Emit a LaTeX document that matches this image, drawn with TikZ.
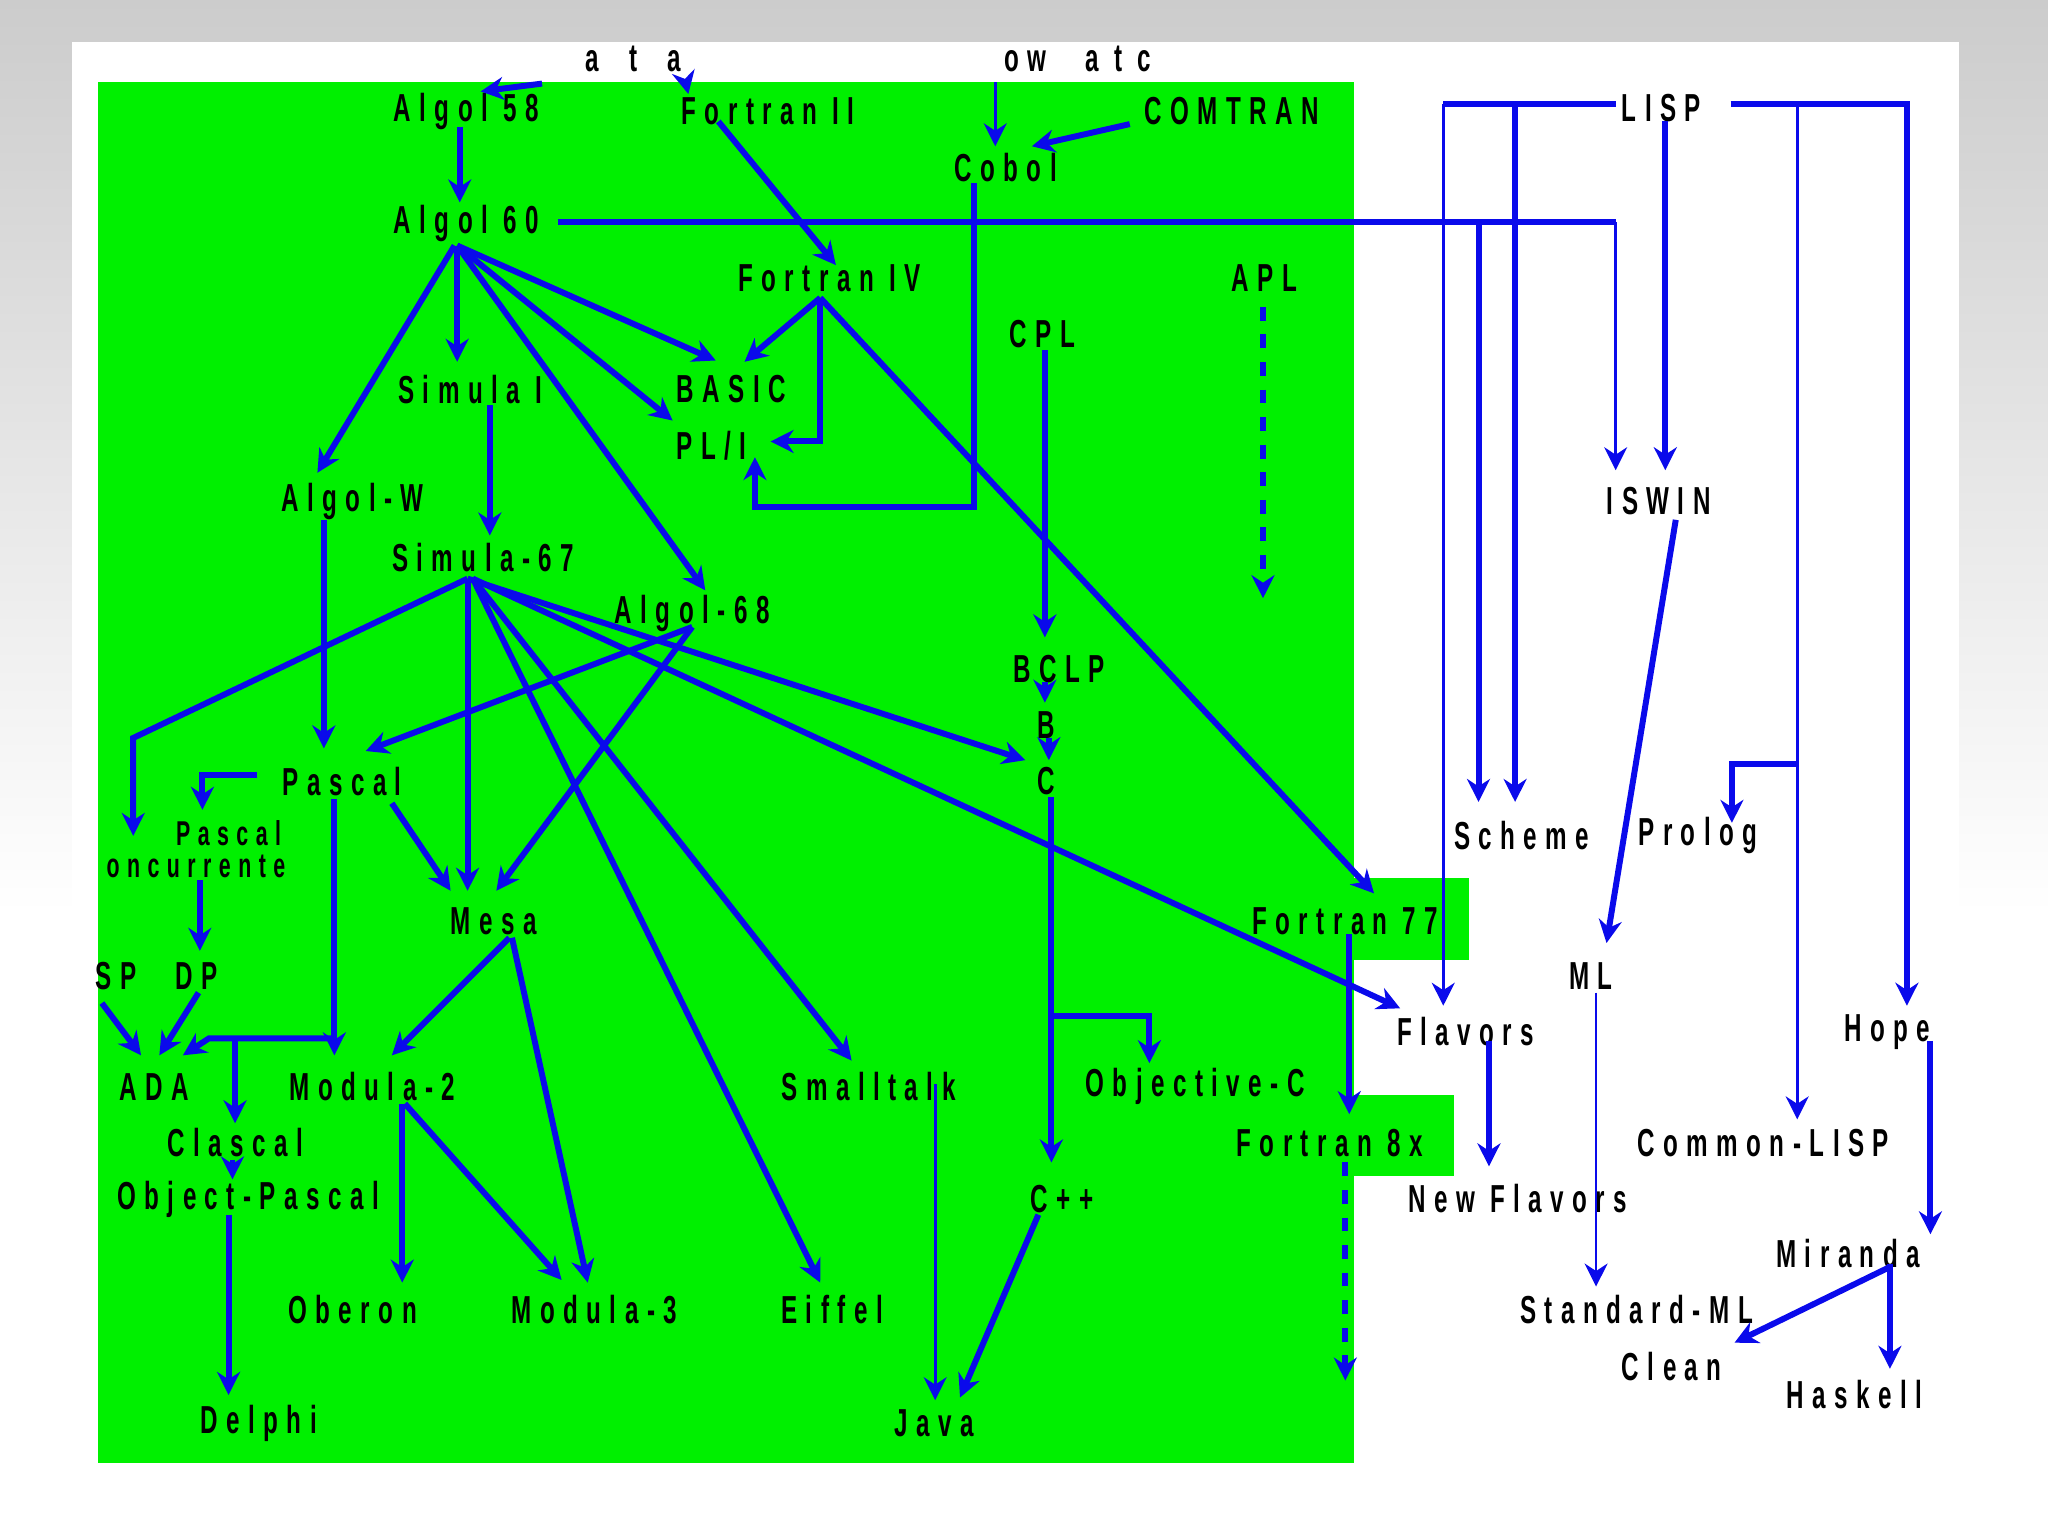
\documentclass[tikz,border=0pt]{standalone}
\usepackage{fontspec}
\usepackage{graphicx}
\setmainfont{Liberation Sans}
\usetikzlibrary{arrows.meta}
\newfontfamily\lblfont[LetterSpace=35]{Liberation Sans}
\newcommand{\lb}[1]{\scalebox{0.62}[1]{\bfseries\lblfont #1}}
\definecolor{lgreen}{RGB}{0,240,0}
\definecolor{lblue}{RGB}{10,10,235}
\begin{document}
\begin{tikzpicture}[x={(0.01cm,0)},y={(0,-0.01cm)},
  t/.style={inner sep=0pt,font=\fontsize{8.5}{9}\selectfont},
  ts/.style={inner sep=0pt,font=\fontsize{7.5}{8}\selectfont},
  thk/.style={draw=lblue,line width=1.3pt,-{Stealth[length=5pt,width=5pt]}},
  thn/.style={draw=lblue,line width=0.6pt,-{Stealth[length=5pt,width=5pt]}},
  thkl/.style={draw=lblue,line width=1.3pt},
  thnl/.style={draw=lblue,line width=0.6pt}]
\useasboundingbox (0,0) rectangle (1568,1176);
\shade[top color=black!20,bottom color=white] (0,0) rectangle (1568,700);
\fill[white] (55,32) rectangle (1500,1176);
\fill[lgreen] (75,63) rectangle (1037,1120);
\fill[lgreen] (1037,672) rectangle (1125,735);
\fill[lgreen] (1037,838) rectangle (1113,900);
% labels
\node[t] (ta) at (485,45) {\lb{a \ t \ a}};
\node[t] (tb) at (825,45) {\lb{ow \quad a t c}};
\node[t] (a58) at (357,85) {\lb{Algol 58}};
\node[t] (f2) at (588,85) {\lb{Fortran II}};
\node[t] (comtran) at (943,85) {\lb{COMTRAN}};
\node[t] (cobol) at (770,128) {\lb{Cobol}};
\node[t] (lisp) at (1272,83) {\lb{LISP}};
\node[t] (a60) at (357,171) {\lb{Algol 60}};
\node[t] (f4) at (635,213) {\lb{Fortran IV}};
\node[t] (apl) at (968,213) {\lb{APL}};
\node[t] (cpl) at (798,256) {\lb{CPL}};
\node[t] (sim1) at (360,298) {\lb{Simula I}};
\node[t] (basic) at (560,298) {\lb{BASIC}};
\node[t] (pl1) at (545,341) {\lb{PL/I}};
\node[t] (iswin) at (1270,384) {\lb{ISWIN}};
\node[t] (aw) at (270,384) {\lb{Algol-W}};
\node[t] (s67) at (370,427) {\lb{Simula-67}};
\node[t] (a68) at (530,470) {\lb{Algol-68}};
\node[t] (bclp) at (811,512) {\lb{BCLP}};
\node[t] (b) at (801,555) {\lb{B}};
\node[t] (c) at (801,598) {\lb{C}};
\node[t] (pascal) at (262,598) {\lb{Pascal}};
\node[ts] (pc1) at (175,638) {\lb{Pascal}};
\node[ts] (pc2) at (150,663) {\lb{oncurrente}};
\node[t] (scheme) at (1165,640) {\lb{Scheme}};
\node[t] (prolog) at (1300,640) {\lb{Prolog}};
\node[t] (mesa) at (378,705) {\lb{Mesa}};
\node[t] (f77) at (1030,705) {\lb{Fortran 77}};
\node[t] (ml) at (1218,747) {\lb{ML}};
\node[t] (spdp) at (120,747) {\lb{SP \quad DP}};
\node[t] (ada) at (118,832) {\lb{ADA}};
\node[t] (mod2) at (285,832) {\lb{Modula-2}};
\node[t] (st) at (665,832) {\lb{Smalltalk}};
\node[t] (objc) at (915,832) {\lb{Objective-C}};
\node[t] (flav) at (1122,790) {\lb{Flavors}};
\node[t] (hope) at (1445,790) {\lb{Hope}};
\node[t] (clascal) at (180,875) {\lb{Clascal}};
\node[t] (f8x) at (1018,875) {\lb{Fortran 8x}};
\node[t] (clisp) at (1350,875) {\lb{Common-LISP}};
\node[t] (op) at (190,918) {\lb{Object-Pascal}};
\node[t] (cpp) at (813,918) {\lb{C++}};
\node[t] (nf) at (1162,918) {\lb{New Flavors}};
\node[t] (mir) at (1415,960) {\lb{Miranda}};
\node[t] (oberon) at (270,1003) {\lb{Oberon}};
\node[t] (mod3) at (455,1003) {\lb{Modula-3}};
\node[t] (eiffel) at (637,1003) {\lb{Eiffel}};
\node[t] (sml) at (1253,1003) {\lb{Standard-ML}};
\node[t] (clean) at (1280,1046) {\lb{Clean}};
\node[t] (hask) at (1420,1068) {\lb{Haskell}};
\node[t] (delphi) at (198,1090) {\lb{Delphi}};
\node[t] (java) at (715,1090) {\lb{Java}};
% top stubs
\draw[thk] (415,64) -- (368,70);
\draw[thk] (525,63) -- (527,72);
\draw[thn] (762,63) -- (762,112);
\draw[thk] (865,95) -- (790,112);
% edges
\draw[thk] (352,97) -- (352,155);
\draw[thk] (550,93) -- (640,203);
\draw[thkl] (427,170) -- (1237,170);
\draw[thn] (1237,170) -- (1237,360);
\draw[thk] (1132,170) -- (1132,614);
\draw[thkl] (1105,80) -- (1237,80);
\draw[thkl] (1325,80) -- (1462,80);
\draw[thn] (1105,80) -- (1105,770);
\draw[thk] (1160,80) -- (1160,614);
\draw[thk] (1275,93) -- (1275,360);
\draw[thn] (1376,80) -- (1376,857);
\draw[thk] (1460,80) -- (1460,770);
\draw[thk] (1376,585) -- (1326,585) -- (1326,630);
\draw[thk] (746,140) -- (746,388) -- (578,388) -- (578,350);
\draw[thk] (348,188) -- (243,362);
\draw[thk] (350,188) -- (350,277);
\draw[thk] (350,188) -- (548,276);
\draw[thk] (350,188) -- (515,322);
\draw[thk] (350,188) -- (540,452);
\draw[thk] (628,228) -- (570,277);
\draw[thk] (628,228) -- (628,338) -- (590,338);
\draw[thk] (628,228) -- (1052,684);
\draw[thk,dashed] (967,235) -- (967,458);
\draw[thk] (800,268) -- (800,488);
\draw[thk] (800,522) -- (800,538);
\draw[thk] (803,565) -- (803,582);
\draw[thk] (375,310) -- (375,410);
\draw[thk] (248,398) -- (248,573);
\draw[thk] (358,443) -- (102,565) -- (102,640);
\draw[thk] (358,443) -- (358,682);
\draw[thk] (358,443) -- (785,582);
\draw[thk] (362,443) -- (652,812);
\draw[thk] (362,443) -- (628,982);
\draw[thk] (362,443) -- (1072,772);
\draw[thk] (530,480) -- (280,575);
\draw[thk] (530,480) -- (380,682);
\draw[thk] (197,593) -- (155,593) -- (155,620);
\draw[thk] (300,615) -- (345,682);
\draw[thk] (256,612) -- (256,808);
\draw[thk] (153,674) -- (153,728);
\draw[thk] (78,768) -- (108,808);
\draw[thk] (152,760) -- (122,808);
\draw[thk] (256,795) -- (160,795) -- (140,808);
\draw[thk] (180,795) -- (180,860);
\draw[thk] (178,888) -- (178,903);
\draw[thk] (175,930) -- (175,1068);
\draw[thk] (390,718) -- (300,808);
\draw[thk] (392,718) -- (450,982);
\draw[thk] (308,845) -- (308,982);
\draw[thk] (310,845) -- (430,980);
\draw[thn] (716,830) -- (716,1072);
\draw[thk] (805,610) -- (805,890);
\draw[thk] (805,778) -- (880,778) -- (880,814);
\draw[thk] (795,930) -- (735,1070);
\draw[thk] (1033,715) -- (1033,853);
\draw[thk,dashed] (1030,890) -- (1030,1057);
\draw[thk] (1283,398) -- (1230,722);
\draw[thn] (1222,760) -- (1222,985);
\draw[thk] (1140,797) -- (1140,893);
\draw[thk] (1478,797) -- (1478,945);
\draw[thk] (1447,968) -- (1447,1048);
\draw[thk] (1447,970) -- (1328,1028);
\end{tikzpicture}
\end{document}
